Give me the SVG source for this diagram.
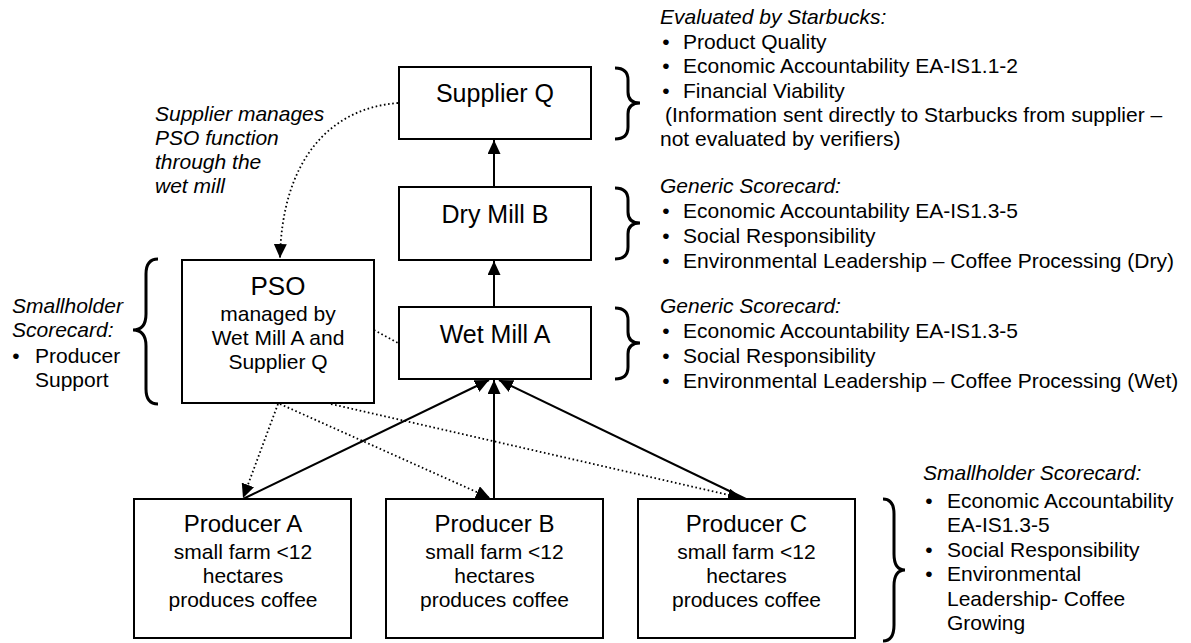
<svg xmlns="http://www.w3.org/2000/svg" width="1191" height="643" viewBox="0 0 1191 643">
<style>
text{font-family:"Liberation Sans",Arial,sans-serif;fill:#000}
.box{fill:#fff;stroke:#000;stroke-width:2}
.lbl{font-size:25px;text-anchor:middle}
.sub{font-size:21px;text-anchor:middle}
.t{font-size:21px}
.it{font-size:21px;font-style:italic}
.bl{font-size:21px;text-anchor:middle}
.brace{fill:none;stroke:#000;stroke-width:3}
.solid{fill:none;stroke:#000;stroke-width:2}
.dot{fill:none;stroke:#000;stroke-width:1.8;stroke-dasharray:1.6 2.6}
</style>
<defs>
<marker id="ah" viewBox="0 0 14 13" refX="14" refY="6.5" markerWidth="14" markerHeight="13" markerUnits="userSpaceOnUse" orient="auto">
<path d="M0,0 L14,6.5 L0,13 z" fill="#000"/>
</marker>
</defs>
<rect width="1191" height="643" fill="#fff"/>

<g id="connectors">
<line class="solid" x1="494" y1="187" x2="494" y2="140" marker-end="url(#ah)"/>
<line class="solid" x1="494" y1="307" x2="494" y2="261" marker-end="url(#ah)"/>
<line class="solid" x1="243" y1="499" x2="489" y2="380" marker-end="url(#ah)"/>
<line class="solid" x1="494" y1="499" x2="494" y2="380" marker-end="url(#ah)"/>
<line class="solid" x1="746" y1="499" x2="499" y2="380" marker-end="url(#ah)"/>
<path class="dot" d="M398,103 C330,108 282,160 280,258" marker-end="url(#ah)"/>
<line class="dot" x1="374" y1="330" x2="398" y2="343"/>
<line class="dot" x1="278" y1="404" x2="243" y2="498" marker-end="url(#ah)"/>
<line class="dot" x1="280" y1="404" x2="490" y2="498" marker-end="url(#ah)"/>
<line class="dot" x1="331" y1="404" x2="742" y2="498" marker-end="url(#ah)"/>
</g>

<g id="supplierQ">
<rect class="box" x="399" y="67" width="192" height="72"/>
<text class="lbl" x="495" y="102">Supplier Q</text>
</g>
<g id="dryMillB">
<rect class="box" x="399" y="187" width="192" height="73"/>
<text class="lbl" x="495" y="223">Dry Mill B</text>
</g>
<g id="wetMillA">
<rect class="box" x="399" y="307" width="192" height="72"/>
<text class="lbl" x="495" y="343">Wet Mill A</text>
</g>
<g id="pso">
<rect class="box" x="182" y="260" width="192" height="143"/>
<text x="278" y="295" style="font-size:26px;text-anchor:middle">PSO</text>
<text class="sub" x="278" y="321">managed by</text>
<text class="sub" x="278" y="345">Wet Mill A and</text>
<text class="sub" x="278" y="369">Supplier Q</text>
</g>
<g id="producerA">
<rect class="box" x="134" y="499" width="217" height="139"/>
<text x="243" y="532" style="font-size:24px;text-anchor:middle">Producer A</text>
<text class="sub" x="243" y="559">small farm &lt;12</text>
<text class="sub" x="243" y="583">hectares</text>
<text class="sub" x="243" y="607">produces coffee</text>
</g>
<g id="producerB">
<rect class="box" x="386" y="499" width="217" height="139"/>
<text x="494.5" y="532" style="font-size:24px;text-anchor:middle">Producer B</text>
<text class="sub" x="494.5" y="559">small farm &lt;12</text>
<text class="sub" x="494.5" y="583">hectares</text>
<text class="sub" x="494.5" y="607">produces coffee</text>
</g>
<g id="producerC">
<rect class="box" x="638" y="499" width="217" height="139"/>
<text x="746.5" y="532" style="font-size:24px;text-anchor:middle">Producer C</text>
<text class="sub" x="746.5" y="559">small farm &lt;12</text>
<text class="sub" x="746.5" y="583">hectares</text>
<text class="sub" x="746.5" y="607">produces coffee</text>
</g>

<g id="note-supplier-manages">
<text class="it" x="155" y="121">Supplier manages</text>
<text class="it" x="155" y="145">PSO function</text>
<text class="it" x="155" y="169">through the</text>
<text class="it" x="155" y="193">wet mill</text>
</g>

<g id="brace-supplier">
<path class="brace" d="M615,68 Q628,68 628,80 L628,92 Q628,103 640,103 Q628,103 628,114 L628,127 Q628,139 615,139"/>
<text class="it" x="660" y="24">Evaluated by Starbucks:</text>
<text class="bl" x="666" y="49">•</text><text class="t" x="683" y="49">Product Quality</text>
<text class="bl" x="666" y="73">•</text><text class="t" x="683" y="73">Economic Accountability EA-IS1.1-2</text>
<text class="bl" x="666" y="98">•</text><text class="t" x="683" y="98">Financial Viability</text>
<text class="t" x="665" y="122">(Information sent directly to Starbucks from supplier –</text>
<text class="t" x="660" y="146">not evaluated by verifiers)</text>
</g>

<g id="brace-dry">
<path class="brace" d="M615,188 Q628,188 628,200 L628,212 Q628,223 640,223 Q628,223 628,234 L628,247 Q628,259 615,259"/>
<text class="it" x="660" y="193">Generic Scorecard:</text>
<text class="bl" x="666" y="218">•</text><text class="t" x="683" y="218">Economic Accountability EA-IS1.3-5</text>
<text class="bl" x="666" y="243">•</text><text class="t" x="683" y="243">Social Responsibility</text>
<text class="bl" x="666" y="268">•</text><text class="t" x="683" y="268">Environmental Leadership – Coffee Processing (Dry)</text>
</g>

<g id="brace-wet">
<path class="brace" d="M615,308 Q628,308 628,320 L628,332 Q628,343 640,343 Q628,343 628,354 L628,367 Q628,379 615,379"/>
<text class="it" x="660" y="313">Generic Scorecard:</text>
<text class="bl" x="666" y="338">•</text><text class="t" x="683" y="338">Economic Accountability EA-IS1.3-5</text>
<text class="bl" x="666" y="363">•</text><text class="t" x="683" y="363">Social Responsibility</text>
<text class="bl" x="666" y="388">•</text><text class="t" x="683" y="388">Environmental Leadership – Coffee Processing (Wet)</text>
</g>

<g id="brace-pso">
<path class="brace" d="M158,259 Q146,259 146,274 L146,314 Q146,330 133,330 Q146,330 146,346 L146,389 Q146,404 158,404"/>
<text class="it" x="12" y="313">Smallholder</text>
<text class="it" x="12" y="337">Scorecard:</text>
<text class="bl" x="16" y="363">•</text><text class="t" x="35" y="363">Producer</text>
<text class="t" x="35" y="387">Support</text>
</g>

<g id="brace-producers">
<path class="brace" d="M883,499 Q894,499 894,514 L894,554 Q894,570 905,570 Q894,570 894,586 L894,625 Q894,641 883,641"/>
<text class="it" x="923" y="480">Smallholder Scorecard:</text>
<text class="bl" x="929" y="508">•</text><text class="t" x="947" y="508">Economic Accountability</text>
<text class="t" x="947" y="532">EA-IS1.3-5</text>
<text class="bl" x="929" y="557">•</text><text class="t" x="947" y="557">Social Responsibility</text>
<text class="bl" x="929" y="581">•</text><text class="t" x="947" y="581">Environmental</text>
<text class="t" x="947" y="606">Leadership- Coffee</text>
<text class="t" x="947" y="630">Growing</text>
</g>
</svg>
